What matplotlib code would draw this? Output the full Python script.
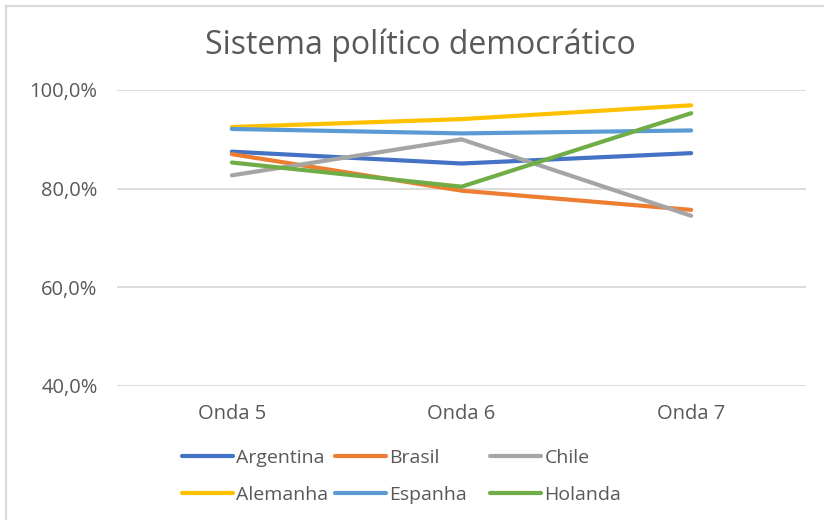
import matplotlib
matplotlib.use("Agg")
import matplotlib.pyplot as plt
from matplotlib.lines import Line2D

categories = ["Onda 5", "Onda 6", "Onda 7"]
series_names = ["Argentina", "Brasil", "Chile", "Alemanha", "Espanha", "Holanda"]
argentina = [87.5, 85.1, 87.2]
brasil = [87.0, 79.6, 75.7]
chile = [82.7, 90.0, 74.5]
alemanha = [92.5, 94.1, 96.9]
espanha = [92.1, 91.2, 91.8]
holanda = [85.3, 80.4, 95.3]
yticks = [40, 60, 80, 100]
ytick_labels = ["40,0%", "60,0%", "80,0%", "100,0%"]
title = "Sistema político democrático"

series = [argentina, brasil, chile, alemanha, espanha, holanda]
colors = ["#4472C4", "#ED7D31", "#A5A5A5", "#FFC000", "#5B9BD5", "#70AD47"]

plt.rcParams['font.family'] = ['Open Sans', 'DejaVu Sans']
W, H = 824, 520
fig = plt.figure(figsize=(W / 100, H / 100), dpi=100)
fig.patch.set_facecolor("white")

# outer chart frame (cropped)
fig.add_artist(Line2D([6 / W, 6 / W], [0, 1 - 6 / H], color="#D9D9D9", lw=1.6,
                      transform=fig.transFigure))
fig.add_artist(Line2D([6 / W, 1.01], [1 - 6 / H, 1 - 6 / H], color="#D9D9D9", lw=1.6,
                      transform=fig.transFigure))

left, right, top, bottom = 117, 806, 90, 386
ax = fig.add_axes([left / W, 1 - bottom / H, (right - left) / W, (bottom - top) / H])
x = list(range(len(categories)))
lines = []
for name, vals, c in zip(series_names, series, colors):
    ln, = ax.plot(x, vals, color=c, lw=3.0, solid_capstyle="round",
                  solid_joinstyle="round", label=name, zorder=3)
    lines.append(ln)

ax.set_xlim(-0.5, len(categories) - 0.5)
ax.set_ylim(40, 100)
ax.set_yticks(yticks)
ax.set_yticklabels(ytick_labels)
ax.set_xticks(x)
ax.set_xticklabels(categories)
ax.tick_params(length=0, labelsize=14.5, colors="#595959")
ax.tick_params(axis="y", pad=14)
ax.tick_params(axis="x", pad=13)
ax.yaxis.grid(True, color="#D9D9D9", lw=1.3)
ax.set_axisbelow(True)
for s in ax.spines.values():
    s.set_visible(False)

fig.text(420 / W, 1 - 45 / H, title, ha="center", va="center", fontsize=23, color="#595959")

# legend: three columns, two rows
col_x = [182, 335, 490]
for ci in range(3):
    hs = [lines[ci], lines[ci + 3]]
    leg = fig.legend(hs, [h.get_label() for h in hs], loc="upper left",
                     bbox_to_anchor=(col_x[ci] / W, 1 - 449 / H), frameon=False,
                     fontsize=14, handlelength=2.6, handletextpad=0.2,
                     labelspacing=0.98, borderpad=0, borderaxespad=0)
    for t in leg.get_texts():
        t.set_color("#595959")

fig.savefig("out.png", dpi=100, facecolor="white")
